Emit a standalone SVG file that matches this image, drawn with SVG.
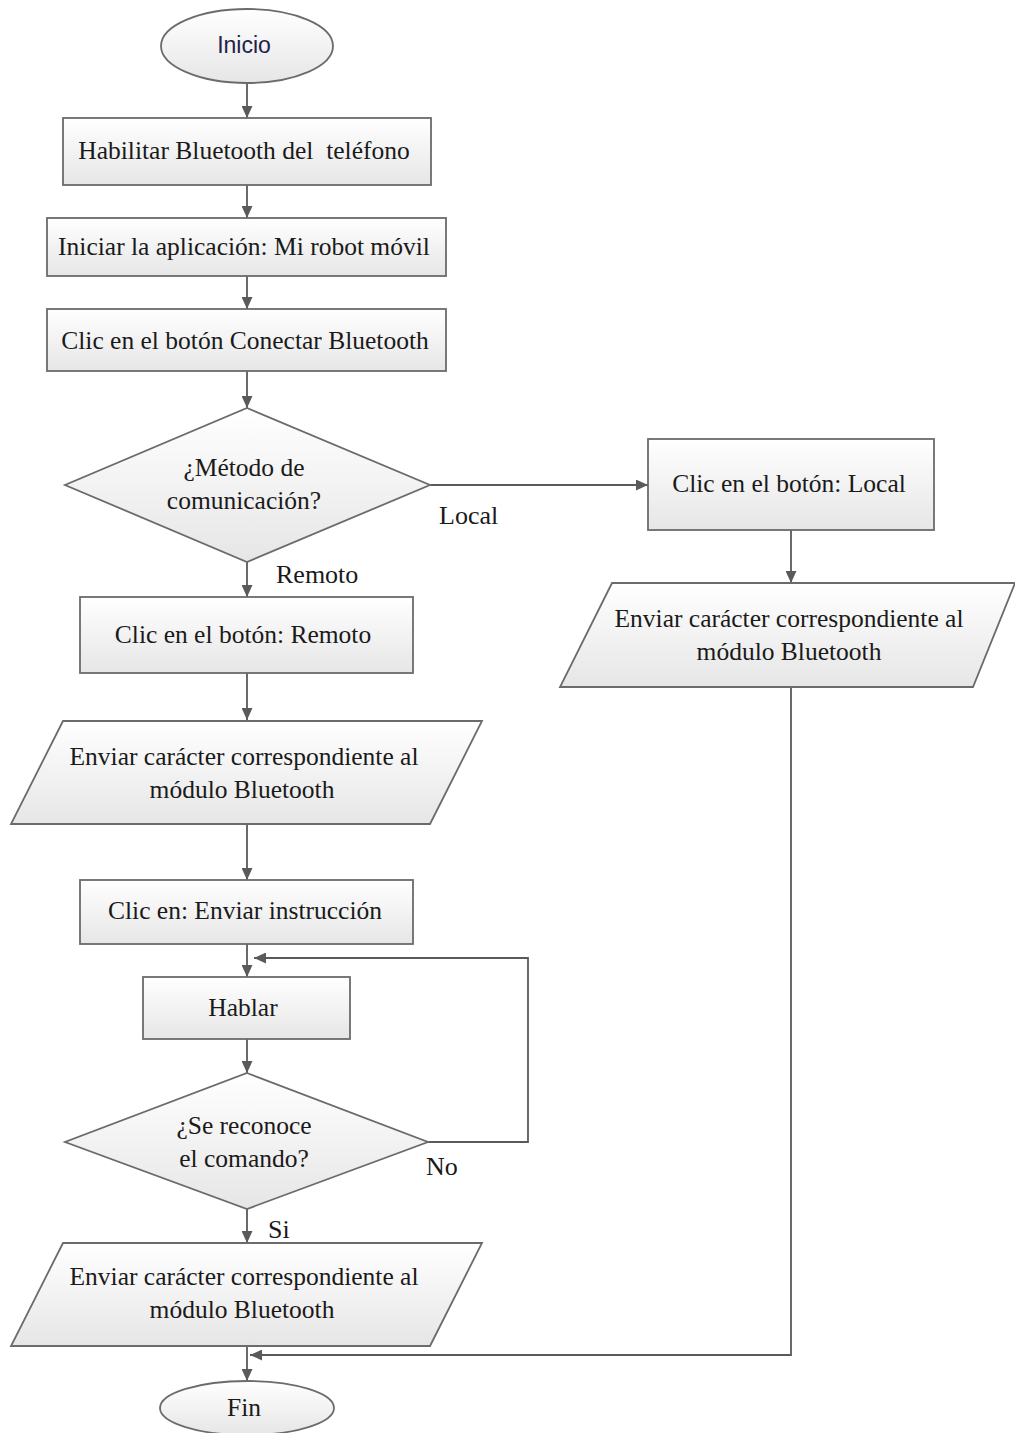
<svg xmlns="http://www.w3.org/2000/svg" width="1015" height="1433" viewBox="0 0 1015 1433">
  <defs>
    <linearGradient id="nodeFill" x1="0" y1="0" x2="0" y2="1">
      <stop offset="0" stop-color="#ffffff"/>
      <stop offset="1" stop-color="#e6e6e6"/>
    </linearGradient>
    <marker id="arrow" viewBox="0 0 12 11" refX="12" refY="5.5" markerWidth="12" markerHeight="11" markerUnits="userSpaceOnUse" orient="auto">
      <path d="M0,0 L12,5.5 L0,11 z" fill="#5a5a5a"/>
    </marker>
  </defs>
  <style>
    .shape { fill: url(#nodeFill); stroke: #6b6b6b; stroke-width: 1.8; }
    .lbl { font-family: "Liberation Serif", "Times New Roman", serif; font-size: 25.5px; fill: #1a1a1a; text-anchor: middle; }
    .term { font-family: "Liberation Sans", Arial, sans-serif; font-size: 23px; fill: #22224a; text-anchor: middle; }
    .edge { fill: none; stroke: #5a5a5a; stroke-width: 1.8; }
    .elbl { font-family: "Liberation Serif", "Times New Roman", serif; font-size: 26px; fill: #1a1a1a; }
  </style>
  <rect width="1015" height="1433" fill="#ffffff"/>

  <g id="connectors">
    <line class="edge" x1="247" y1="83" x2="247" y2="118" marker-end="url(#arrow)"/>
    <line class="edge" x1="247" y1="185" x2="247" y2="218" marker-end="url(#arrow)"/>
    <line class="edge" x1="247" y1="276" x2="247" y2="309" marker-end="url(#arrow)"/>
    <line class="edge" x1="247" y1="371" x2="247" y2="408" marker-end="url(#arrow)"/>
    <line class="edge" x1="430" y1="485" x2="648" y2="485" marker-end="url(#arrow)"/>
    <line class="edge" x1="791" y1="530" x2="791" y2="583" marker-end="url(#arrow)"/>
    <line class="edge" x1="247" y1="562" x2="247" y2="597" marker-end="url(#arrow)"/>
    <line class="edge" x1="247" y1="673" x2="247" y2="720" marker-end="url(#arrow)"/>
    <line class="edge" x1="247" y1="824" x2="247" y2="880" marker-end="url(#arrow)"/>
    <line class="edge" x1="247" y1="944" x2="247" y2="977" marker-end="url(#arrow)"/>
    <line class="edge" x1="247" y1="1039" x2="247" y2="1073" marker-end="url(#arrow)"/>
    <polyline class="edge" points="428,1142 528,1142 528,958 254,958" marker-end="url(#arrow)"/>
    <line class="edge" x1="247" y1="1209" x2="247" y2="1243" marker-end="url(#arrow)"/>
    <line class="edge" x1="247" y1="1346" x2="247" y2="1381" marker-end="url(#arrow)"/>
    <polyline class="edge" points="791,687 791,1355 250,1355" marker-end="url(#arrow)"/>
    <text class="elbl" x="439" y="524">Local</text>
    <text class="elbl" x="276" y="583">Remoto</text>
    <text class="elbl" x="426" y="1175">No</text>
    <text class="elbl" x="268" y="1238">Si</text>
  </g>

  <g id="inicio">
    <ellipse class="shape" cx="247" cy="46" rx="86" ry="37"/>
    <text class="term" x="244" y="53">Inicio</text>
  </g>

  <g id="habilitar">
    <rect class="shape" x="63" y="118" width="368" height="67"/>
    <text class="lbl" x="244" y="159" xml:space="preserve">Habilitar Bluetooth del  teléfono</text>
  </g>

  <g id="iniciar">
    <rect class="shape" x="47" y="218" width="399" height="58"/>
    <text class="lbl" x="244" y="255">Iniciar la aplicación: Mi robot móvil</text>
  </g>

  <g id="conectar">
    <rect class="shape" x="47" y="309" width="399" height="62"/>
    <text class="lbl" x="245" y="349">Clic en el botón Conectar Bluetooth</text>
  </g>

  <g id="metodo">
    <polygon class="shape" points="247,408 430,485 247,562 65,485"/>
    <text class="lbl" x="244" y="476">¿Método de</text>
    <text class="lbl" x="244" y="509">comunicación?</text>
  </g>

  <g id="local">
    <rect class="shape" x="648" y="439" width="286" height="91"/>
    <text class="lbl" x="789" y="492">Clic en el botón: Local</text>
  </g>

  <g id="enviar-local">
    <polygon class="shape" points="612,583 1015,583 973,687 560,687"/>
    <text class="lbl" x="789" y="627">Enviar carácter correspondiente al</text>
    <text class="lbl" x="789" y="660">módulo Bluetooth</text>
  </g>

  <g id="remoto">
    <rect class="shape" x="80" y="597" width="333" height="76"/>
    <text class="lbl" x="243" y="643">Clic en el botón: Remoto</text>
  </g>

  <g id="enviar-remoto">
    <polygon class="shape" points="63,721 482,721 430,824 11,824"/>
    <text class="lbl" x="244" y="765">Enviar carácter correspondiente al</text>
    <text class="lbl" x="242" y="798">módulo Bluetooth</text>
  </g>

  <g id="instruccion">
    <rect class="shape" x="80" y="880" width="333" height="64"/>
    <text class="lbl" x="245" y="919">Clic en: Enviar instrucción</text>
  </g>

  <g id="hablar">
    <rect class="shape" x="143" y="977" width="207" height="62"/>
    <text class="lbl" x="243" y="1016">Hablar</text>
  </g>

  <g id="reconoce">
    <polygon class="shape" points="247,1073 428,1142 247,1209 65,1142"/>
    <text class="lbl" x="244" y="1134">¿Se reconoce</text>
    <text class="lbl" x="244" y="1167">el comando?</text>
  </g>

  <g id="enviar-comando">
    <polygon class="shape" points="63,1243 482,1243 430,1346 11,1346"/>
    <text class="lbl" x="244" y="1285">Enviar carácter correspondiente al</text>
    <text class="lbl" x="242" y="1318">módulo Bluetooth</text>
  </g>

  <g id="fin">
    <ellipse class="shape" cx="247" cy="1408" rx="87" ry="27"/>
    <text class="lbl" x="244" y="1416">Fin</text>
  </g>
</svg>
